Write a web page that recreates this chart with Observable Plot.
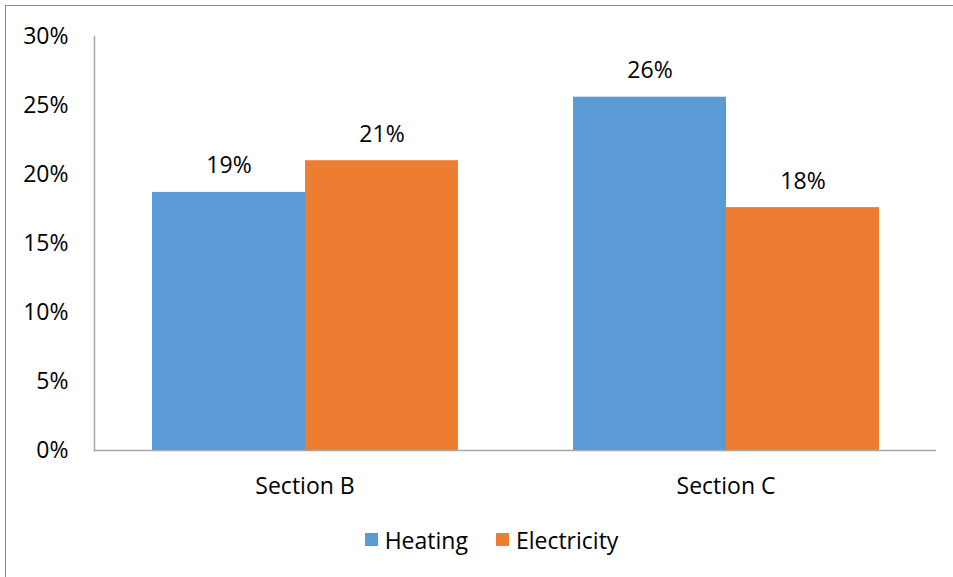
<!DOCTYPE html>
<html>
<head>
<meta charset="utf-8">
<script src="https://cdn.jsdelivr.net/npm/d3@7"></script>
<script src="https://cdn.jsdelivr.net/npm/@observablehq/plot@0.6"></script>
<style>
  html, body { margin: 0; padding: 0; overflow: hidden; background: #fff; }
  #wrap { position: relative; width: 953px; height: 577px; font-family: "Open Sans", sans-serif; }
  #border { position: absolute; left: 5px; top: 5px; width: 970px; height: 620px; border: 1px solid #8c8c8c; box-sizing: border-box; }
  #chart { position: absolute; left: 0; top: 0; }
  #legend { position: absolute; left: 58px; width: 895px; top: 523px; display: flex; justify-content: center; }
  .lg-swatch { margin-right: 28px !important; }
  .lg-swatch svg { margin-right: 7px !important; }
</style>
</head>
<body>
<div id="wrap">
  <div id="border"></div>
  <div id="chart"></div>
  <div id="legend"></div>
</div>
<script>
const sections = ["Section B", "Section C"];
const series = ["Heating", "Electricity"];
const heating = [0.187, 0.256];
const electricity = [0.21, 0.176];
const colors = ["#5B9BD5", "#ED7D31"];
const yTicks = [0, 0.05, 0.10, 0.15, 0.20, 0.25, 0.30];

const table = [];
sections.forEach((s, i) => {
  table.push({section: s, series: "Heating", value: heating[i]});
  table.push({section: s, series: "Electricity", value: electricity[i]});
});

const pct = d3.format(".0%");

const chart = Plot.plot({
  width: 953,
  height: 510,
  marginLeft: 94,
  marginRight: 17,
  marginTop: 36,
  marginBottom: 60,
  style: {fontFamily: "Open Sans, sans-serif", fontSize: "23px", color: "#000", background: "transparent"},
  fx: {domain: sections, padding: 0, label: null, axis: "bottom", tickSize: 0, tickPadding: 27},
  x: {domain: series, paddingInner: 0, paddingOuter: 0.371, axis: null},
  y: {domain: [0, 0.3], ticks: yTicks, tickFormat: pct, tickSize: 0, tickPadding: 26, label: null},
  color: {domain: series, range: colors},
  marks: [
    Plot.barY(table, {fx: "section", x: "series", y: "value", fill: "series"}),
    Plot.ruleY([0], {stroke: "#a6a6a6", strokeWidth: 1.5}),
    Plot.frame({anchor: "left", facetAnchor: "left", stroke: "#a6a6a6", strokeWidth: 1.5}),
    Plot.text(table, {fx: "section", x: "series", y: "value", text: d => pct(d.value), lineAnchor: "bottom", dy: -19, fill: "#000", fontSize: 23})
  ]
});
document.getElementById("chart").appendChild(chart);

const legend = Plot.legend({
  color: {domain: series, range: colors},
  swatchSize: 13,
  className: "lg",
  style: {fontFamily: "Open Sans, sans-serif", fontSize: "23px", color: "#000"}
});
document.getElementById("legend").appendChild(legend);
</script>
</body>
</html>
